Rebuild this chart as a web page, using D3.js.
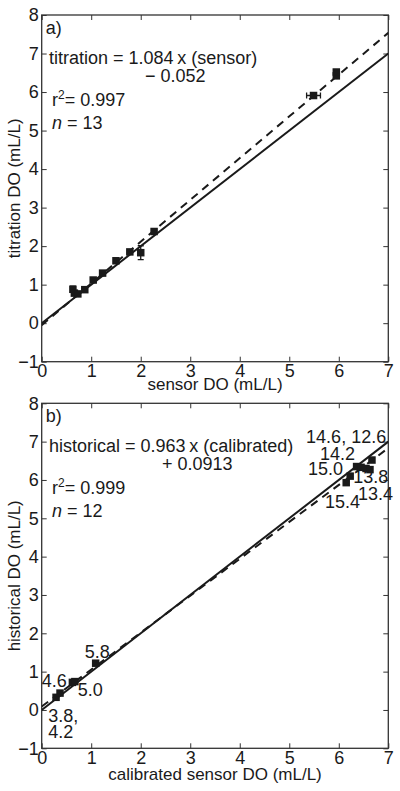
<!DOCTYPE html>
<html>
<head>
<meta charset="utf-8">
<script src="https://cdn.jsdelivr.net/npm/d3@7"></script>
<style>
  html, body { margin: 0; padding: 0; background: #fff; }
  svg { display: block; font-family: "Liberation Sans", Arial, Helvetica, sans-serif; }
</style>
</head>
<body>
<svg id="chart" width="400" height="791"></svg>
<script>
// ---------- data ----------
const xTicks = [0, 1, 2, 3, 4, 5, 6, 7];
const yTicks = [-1, 0, 1, 2, 3, 4, 5, 6, 7, 8];

// panel a) sensor vs titration
const sensorDO    = [0.63, 0.66, 0.73, 0.87, 1.04, 1.23, 1.50, 1.78, 2.00, 2.27, 5.49, 5.95, 5.95];
const titrationDO = [0.88, 0.78, 0.76, 0.87, 1.12, 1.30, 1.62, 1.85, 1.83, 2.38, 5.91, 6.42, 6.52];
const sensorErr   = [0.02, 0.02, 0.02, 0.02, 0.02, 0.02, 0.02, 0.02, 0.02, 0.02, 0.14, 0.03, 0.03];
const titrErr     = [0.08, 0.03, 0.03, 0.03, 0.03, 0.03, 0.03, 0.03, 0.18, 0.03, 0.03, 0.04, 0.04];
const fitA = { slope: 1.084, intercept: -0.052 };

// panel b) calibrated sensor vs historical
const calibratedDO = [0.29, 0.37, 0.62, 0.67, 1.09, 6.15, 6.23, 6.36, 6.45, 6.55, 6.63, 6.67];
const historicalDO = [0.33, 0.44, 0.72, 0.74, 1.22, 5.93, 6.10, 6.35, 6.33, 6.30, 6.27, 6.52];
const fitB = { slope: 0.963, intercept: 0.0913 };

// depth labels in panel b (text, anchor in data units)
const depthLabels = ["14.6, 12.6", "14.2", "15.0", "13.8", "13.4", "15.4", "5.8", "4.6", "5.0", "3.8,", "4.2"];
const depthLabelX = [5.34, 5.62, 5.38, 6.29, 6.39, 5.72, 0.87, 0.00, 0.73, 0.13, 0.13];
const depthLabelY = [6.96, 6.52, 6.13, 5.91, 5.48, 5.26, 1.36, 0.61, 0.37, -0.31, -0.74];

// ---------- layout ----------
const svg = d3.select("#chart");
const X0 = 41.7, X1 = 388.3;
const panels = [
  { top: 15, bottom: 361.7, xs: sensorDO, ys: titrationDO, xe: sensorErr, ye: titrErr, fit: fitA,
    xTitle: "sensor DO (mL/L)", yTitle: "titration DO (mL/L)", tag: "a)", titleGap: 28.5,
    eq1: "titration = 1.084\u2009x (sensor)", eq2: "\u2212 0.052", eq2x: 145, r2: "0.997", n: "13" },
  { top: 403.3, bottom: 748.3, xs: calibratedDO, ys: historicalDO, xe: null, ye: null, fit: fitB,
    xTitle: "calibrated sensor DO (mL/L)", yTitle: "historical DO (mL/L)", tag: "b)", titleGap: 31.5,
    eq1: "historical = 0.963\u2009x (calibrated)", eq2: "+ 0.0913", eq2x: 162, r2: "0.999", n: "12" }
];

const ink = "#1a1a1a";
const axisInk = "#333";
const x = d3.scaleLinear().domain([0, 7]).range([X0, X1]);

panels.forEach((p, pi) => {
  const y = d3.scaleLinear().domain([-1, 8]).range([p.bottom, p.top]);
  const g = svg.append("g");
  const clipId = "clip" + pi;
  svg.append("clipPath").attr("id", clipId)
    .append("rect").attr("x", X0).attr("y", p.top).attr("width", X1 - X0).attr("height", p.bottom - p.top);

  // axes with inward ticks
  const tk = 5;
  const styleAxis = sel => {
    sel.select(".domain").remove();
    sel.selectAll(".tick line").attr("stroke", axisInk).attr("stroke-width", 1);
    sel.selectAll(".tick text").attr("fill", ink).attr("font-size", 18)
      .attr("font-family", "'Liberation Sans', Arial, sans-serif");
  };
  g.append("g").attr("transform", `translate(0,${p.bottom})`)
    .call(d3.axisBottom(x).tickValues(xTicks).tickSizeInner(-tk).tickSizeOuter(0).tickPadding(3)
      .tickFormat(d => d < 0 ? "\u2212" + Math.abs(d) : d))
    .call(styleAxis);
  g.append("g").attr("transform", `translate(0,${p.top})`)
    .call(d3.axisTop(x).tickValues(xTicks).tickSizeInner(-tk).tickSizeOuter(0).tickFormat(""))
    .call(styleAxis);
  g.append("g").attr("transform", `translate(${X0},0)`)
    .call(d3.axisLeft(y).tickValues(yTicks).tickSizeInner(-tk).tickSizeOuter(0).tickPadding(3)
      .tickFormat(d => d < 0 ? "\u2212" + Math.abs(d) : d))
    .call(styleAxis);
  g.append("g").attr("transform", `translate(${X1},0)`)
    .call(d3.axisRight(y).tickValues(yTicks).tickSizeInner(-tk).tickSizeOuter(0).tickFormat(""))
    .call(styleAxis);

  // frame
  g.append("rect").attr("x", X0).attr("y", p.top).attr("width", X1 - X0).attr("height", p.bottom - p.top)
    .attr("fill", "none").attr("stroke", axisInk).attr("stroke-width", 1.3);

  const plot = g.append("g").attr("clip-path", `url(#${clipId})`);
  // 1:1 line
  const line = d3.line().x(d => x(d[0])).y(d => y(d[1]));
  plot.append("path").datum([[0, 0], [7, 7]]).attr("d", line)
    .attr("fill", "none").attr("stroke", ink).attr("stroke-width", 2);
  // regression line
  plot.append("path").datum([0, 7].map(v => [v, p.fit.slope * v + p.fit.intercept])).attr("d", line)
    .attr("fill", "none").attr("stroke", ink).attr("stroke-width", 2).attr("stroke-dasharray", "8,6");

  // error bars
  const pts = p.xs.map((v, i) => ({ x: v, y: p.ys[i], xe: p.xe ? p.xe[i] : 0, ye: p.ye ? p.ye[i] : 0 }));
  const eb = plot.append("g").attr("stroke", ink).attr("stroke-width", 1.3);
  pts.forEach(d => {
    if (d.ye > 0) {
      eb.append("line").attr("x1", x(d.x)).attr("x2", x(d.x)).attr("y1", y(d.y - d.ye)).attr("y2", y(d.y + d.ye));
      [d.y - d.ye, d.y + d.ye].forEach(v => eb.append("line")
        .attr("x1", x(d.x) - 3).attr("x2", x(d.x) + 3).attr("y1", y(v)).attr("y2", y(v)));
    }
    if (d.xe > 0) {
      eb.append("line").attr("y1", y(d.y)).attr("y2", y(d.y)).attr("x1", x(d.x - d.xe)).attr("x2", x(d.x + d.xe));
      [d.x - d.xe, d.x + d.xe].forEach(v => eb.append("line")
        .attr("y1", y(d.y) - 3).attr("y2", y(d.y) + 3).attr("x1", x(v)).attr("x2", x(v)));
    }
  });
  // markers
  const ms = 7.5;
  plot.selectAll("rect.pt").data(pts).join("rect").attr("class", "pt")
    .attr("x", d => x(d.x) - ms / 2).attr("y", d => y(d.y) - ms / 2)
    .attr("width", ms).attr("height", ms).attr("fill", ink);

  // annotations
  const t = g.append("g").attr("fill", ink).attr("font-size", 18);
  t.append("text").attr("x", X0 + 4).attr("y", p.top + 19).text(p.tag);
  t.append("text").attr("x", 49).attr("y", p.top + 49).text(p.eq1);
  t.append("text").attr("x", p.eq2x).attr("y", p.top + 67).text(p.eq2);
  const r = t.append("text").attr("x", 52).attr("y", p.top + 91);
  r.append("tspan").text("r");
  r.append("tspan").attr("dy", -7).attr("font-size", 12).text("2");
  r.append("tspan").attr("dy", 7).text("= " + p.r2);
  const nt = t.append("text").attr("x", 52).attr("y", p.top + 114);
  nt.append("tspan").attr("font-style", "italic").text("n");
  nt.append("tspan").text(" = " + p.n);

  // axis titles
  g.append("text").attr("x", (X0 + X1) / 2).attr("y", p.bottom + p.titleGap).attr("text-anchor", "middle")
    .attr("font-size", 17).attr("fill", ink).text(p.xTitle);
  g.append("text").attr("transform", `translate(20,${(p.top + p.bottom) / 2}) rotate(-90)`)
    .attr("text-anchor", "middle").attr("font-size", 17).attr("fill", ink).text(p.yTitle);

  if (pi === 1) {
    g.append("g").attr("fill", ink).attr("font-size", 18)
      .selectAll("text").data(depthLabels).join("text")
      .attr("x", (d, i) => x(depthLabelX[i])).attr("y", (d, i) => y(depthLabelY[i])).text(d => d);
  }
});
</script>
</body>
</html>
